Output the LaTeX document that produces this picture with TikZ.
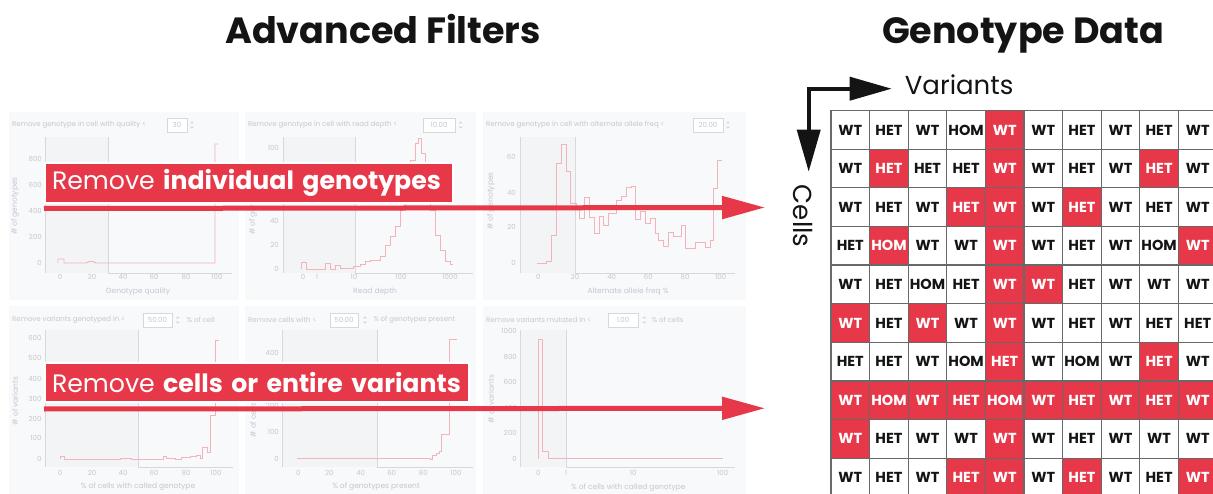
\documentclass[tikz,border=0pt]{standalone}
\usepackage{fontspec}
\setmainfont{Poppins}
\usepackage{tikz}
\usetikzlibrary{arrows.meta,positioning}
\definecolor{brandred}{RGB}{231,56,74}
\definecolor{panelbg}{RGB}{248,249,251}
\definecolor{shadebg}{RGB}{243,244,246}
\definecolor{faint}{RGB}{196,199,205}
\definecolor{axisgray}{RGB}{214,216,220}
\definecolor{histpink}{RGB}{244,178,186}
\definecolor{gridgray}{RGB}{105,105,105}
\definecolor{ink}{RGB}{20,20,20}
\tikzset{spinner/.pic={\draw[faint,line width=0.5pt] (-1.4,-1.6) -- (0,-3) -- (1.4,-1.6) (-1.4,1.6) -- (0,3) -- (1.4,1.6);}}

\begin{document}
\begin{tikzpicture}[x=1pt,y=-1pt,
  heading/.style={font=\fontsize{36.5}{42}\selectfont\bfseries,text=ink,anchor=base,inner sep=0pt},
  hdr/.style={font=\fontsize{7}{8}\selectfont,text=faint,anchor=west,inner sep=0pt},
  ticklab/.style={font=\fontsize{7}{8}\selectfont,text=faint,inner sep=0pt},
  axlab/.style={font=\fontsize{7.5}{9}\selectfont,text=faint,inner sep=0pt},
  inbox/.style={draw=axisgray,fill=white,line width=0.4pt,minimum height=14pt,inner sep=0pt,font=\fontsize{7}{8}\selectfont,text=faint},
  axisln/.style={draw=axisgray,line width=0.8pt},
  hist/.style={draw=histpink,line width=0.9pt},
  banner/.style={fill=brandred,draw=white,line width=2pt,text=white,inner xsep=7pt,inner ysep=0pt,align=left,font=\fontsize{25.2}{30}\selectfont},
  filt/.style={draw=brandred,line width=5pt,-{Triangle[length=43pt,width=22pt]}},
  dimarrow/.style={draw=ink,line width=3.8pt,{Triangle[length=42pt,width=23pt]}-{Triangle[length=42pt,width=23pt]}},
  dimlab/.style={font=\fontsize{26}{30}\selectfont,text=ink,inner sep=0pt},
  cell0/.style={draw=gridgray,line width=1.2pt,fill=white,text=ink,minimum size=38.6pt,inner sep=0pt,font=\fontsize{14.5}{16}\selectfont\bfseries},
  cell1/.style={cell0,fill=brandred,text=white}
]
\useasboundingbox (0,0) rectangle (1213,494);
\fill[white] (0,0) rectangle (1213,494);

% titles
\node[heading] (filters) at (383,44) {Advanced Filters};
\node[heading] (gdata) at (1023,44) {Genotype Data};

% filter panels
\foreach \px/\pw in {9/230,245/231,483/263}
  \foreach \py in {112,306}
    \fill[panelbg] (\px,\py) rectangle ++(\pw,188);

% shaded range, axes and threshold of each histogram
\foreach \ax/\th/\ty/\by/\rx in {45/108/137/273/232,283/355/137/273/473,520/575/137/273/735,
                                 45/138/330/467/233,282/377/330/467/473,520/566/330/467/735}{
  \fill[shadebg] (\ax,\ty) rectangle (\th,\by);
  \draw[axisln] (\ax,\ty) -- (\ax,\by);
  \draw[axisln] (\th,\ty) -- (\th,\by) -- (\rx,\by);
}

% panel 1: quality
\node[hdr] (h1) at (12,125) {Remove genotype in cell with quality <};
\node[inbox,minimum width=20pt] (in1) at (177,125) {30};
\pic at (192,125) {spinner};
\foreach \v/\yy in {800/159.3,600/185,400/211,200/236.7,0/263.3}
  \node[ticklab,anchor=east] (p1y\v) at (42,\yy) {\v};
\foreach \v/\xx in {0/60,20/92,40/123,60/154,80/186,100/217}
  \node[ticklab] (p1x\v) at (\xx,277) {\v};
\node[axlab] (p1xl) at (138,292) {Genotype quality};
\node[axlab,rotate=90] (p1yl) at (15,206) {\# of genotypes};
\draw[hist] (58,263) -- (58,259) -- (64,259) -- (64,263) -- (86,263) -- (89,261.5) -- (93,261.5)
  -- (96,263) -- (215,263) -- (215,144) -- (218,144);

% panel 2: read depth
\node[hdr] (h2) at (248,125) {Remove genotype in cell with read depth <};
\node[inbox,minimum width=32pt] (in2) at (439,125) {10.00};
\pic at (460.7,125) {spinner};
\foreach \v/\yy in {100/147.7,40/221,20/245,0/269.3}
  \node[ticklab,anchor=east] (p2y\v) at (279,\yy) {\v};
\foreach \v/\xx in {0/303,1/317,10/354,100/401,1000/450}
  \node[ticklab] (p2x\v) at (\xx,277) {\v};
\node[axlab] (p2xl) at (375,292) {Read depth};
\node[axlab,rotate=90] (p2yl) at (253,206) {\# of genotypes};
\draw[hist] (301.7,269.3) \foreach \bx/\by in {306.7/262.7,325/269.3,330/263.3,335/269.3,340/265,
  353.3/268.3,360/266,365/264,370/261.7,380/260,385/256.7,390/245,395/236.7,400/226.7,405/210,
  410/183.3,415/160,418.3/143.3,421.7/138.3,425/153.3,430/176.7,435/210,440/235,445/250,
  450/261.7,453.3/264} { |- (\bx,\by) };

% panel 3: allele frequency
\node[hdr] (h3) at (486,125) {Remove genotype in cell with alternate allele freq <};
\node[inbox,minimum width=30pt] (in3) at (708,125) {20.00};
\pic at (728,125) {spinner};
\foreach \v/\yy in {60/156.7,40/192.7,20/227.3,0/263.3}
  \node[ticklab,anchor=east] (p3y\v) at (516,\yy) {\v};
\foreach \v/\xx in {0/538.3,20/575,40/611.7,60/648.3,80/685,100/720.7}
  \node[ticklab] (p3x\v) at (\xx,277) {\v};
\node[axlab] (p3xl) at (628,292) {Alternate allele freq \%};
\node[axlab,rotate=90] (p3yl) at (491,201) {\# of genotypes};
\draw[hist] (536.7,263.3) \foreach \bx/\by in {546.7/263.3,551.7/261.7,556.7/235,561.7/163.3,
  566/144.3,570.7/171.7,576/203.3,579.3/206.7,584.3/218.3,589.3/197.3,594/217.3,599/233.3,
  603.3/216.7,608.3/225,616.7/213.3,621.7/200.7,626.7/196,631.7/187.3,635/186,640/219.3,
  645/211.7,650/223.3,655/218.3,658.3/233.3,663.3/240,668.3/246,673.3/232.7,681.7/236,
  685/225,695/248.3,705/242.3,710/247.3,713.3/240,717.3/188.7,721.7/160} { |- (\bx,\by) };

% panel 4: variants genotyped
\node[hdr] (h4) at (12,320) {Remove variants genotyped in <};
\node[inbox,minimum width=29pt] (in4) at (157.5,320) {50.00};
\pic at (177.7,320) {spinner};
\node[hdr] (u4) at (186.7,320) {\% of cell};
\foreach \v/\yy in {600/338.3,500/358.3,400/379,300/399,200/419,100/438.3,0/458.7}
  \node[ticklab,anchor=east] (p4y\v) at (41.7,\yy) {\v};
\foreach \v/\xx in {0/60,20/92,40/123,60/154,80/186,100/216}
  \node[ticklab] (p4x\v) at (\xx,473.3) {\v};
\node[axlab] (p4xl) at (138,487) {\% of cells with called genotype};
\node[axlab,rotate=90] (p4yl) at (15,401) {\# of variants};
\draw[hist] (60,459.3) \foreach \bx/\by in {64/456,120/459.3,131.7/458.3,163.3/459.3,166.7/456,
  175/458.3,181.7/459.3,190/457.7,196.7/456,200/455,202.7/458.3,207.3/447.7,210.7/452.7,
  215/415,219.3/340} { |- (\bx,\by) };

% panel 5: genotypes present
\node[hdr] (h5) at (248,320) {Remove cells with <};
\node[inbox,minimum width=28pt] (in5) at (344,320) {50.00};
\pic at (365,320) {spinner};
\node[hdr] (u5) at (373.3,320) {\% of genotypes present};
\foreach \v/\yy in {400/352.7,200/405.7,100/432.2,0/458.7}
  \node[ticklab,anchor=east] (p5y\v) at (279,\yy) {\v};
\foreach \v/\xx in {0/298.3,20/329.3,40/360.7,60/391.7,80/423.3,100/456}
  \node[ticklab] (p5x\v) at (\xx,472.7) {\v};
\node[axlab] (p5xl) at (376,487) {\% of genotypes present};
\node[axlab,rotate=90] (p5yl) at (253,420) {\# of cells};
\draw[hist] (297.3,458.7) \foreach \bx/\by in {420/458.7,430/458.3,432.7/459.3,436/455,
  439.3/453.3,441/451.7,449.3/434.3,457.3/339.3} { |- (\bx,\by) };

% panel 6: variants mutated
\node[hdr] (h6) at (486,320) {Remove variants mutated in <};
\node[inbox,minimum width=30pt] (in6) at (623,320) {1.00};
\pic at (644.3,320) {spinner};
\node[hdr] (u6) at (651.7,320) {\% of cells};
\foreach \v/\yy in {1000/330.7,800/356.7,600/382.3,400/407.7,200/432.7,0/458.7}
  \node[ticklab,anchor=east] (p6y\v) at (517,\yy) {\v};
\foreach \v/\xx in {0/538.3,1/566,10/633.3,100/722.7}
  \node[ticklab] (p6x\v) at (\xx,473.3) {\v};
\node[axlab] (p6xl) at (628.3,487.3) {\% of cells with called genotype};
\node[axlab,rotate=90] (p6yl) at (491,399) {\# of variants};
\draw[hist] (538.3,458.7) \foreach \bx/\by in {542.7/339.3,548.3/451.7,722.7/458.7} { |- (\bx,\by) };

% the two kinds of filter
\node[banner,text width=394pt,minimum height=40pt] (bannerA) at (249,183)
  {\mbox{Remove \textbf{individual genotypes}}};
\node[banner,text width=410pt,minimum height=39pt] (bannerB) at (257,382.5)
  {\mbox{Remove \textbf{cells or entire variants}}};
\coordinate (tipA) at (765,207.5);
\coordinate (tipB) at (765,408.3);
\draw[filt] ([yshift=-4.5pt]bannerA.south west) -- (tipA);
\draw[filt] ([yshift=-6pt]bannerB.south west) -- (tipB);

% genotype matrix, cells by variants
\foreach \cells [count=\r] in {
  {WT/0,HET/0,WT/0,HOM/0,WT/1,WT/0,HET/0,WT/0,HET/0,WT/0},
  {WT/0,HET/1,HET/0,HET/0,WT/1,WT/0,HET/0,WT/0,HET/1,WT/0},
  {WT/0,HET/0,WT/0,HET/1,WT/1,WT/0,HET/1,WT/0,HET/0,WT/0},
  {HET/0,HOM/1,WT/0,WT/0,WT/1,WT/0,HET/0,WT/0,HOM/0,WT/1},
  {WT/0,HET/0,HOM/0,HET/0,WT/1,WT/1,HET/0,WT/0,WT/0,WT/0},
  {WT/1,HET/0,WT/1,WT/0,WT/1,WT/0,HET/0,WT/0,HET/0,HET/0},
  {HET/0,HET/0,WT/0,HOM/0,HET/1,WT/0,HOM/0,WT/0,HET/1,WT/0},
  {WT/1,HOM/1,WT/1,HET/1,HOM/1,WT/1,HET/1,WT/1,HET/1,WT/1},
  {WT/1,HET/0,WT/0,WT/0,WT/1,WT/0,HET/0,WT/0,WT/0,WT/0},
  {WT/0,HET/0,WT/0,HET/1,WT/1,WT/0,HET/1,WT/0,HET/0,WT/1}}{
  \foreach \txt/\hit [count=\c] in \cells
    \node[cell\hit] (g-\r-\c) at ({850.3+(\c-1)*38.6},{130+(\r-1)*38.6}) {\txt};
}

% matrix axes
\coordinate (corner) at (808.7,88.7);
\coordinate (vtip) at (891.7,88.7);
\coordinate (ctip) at (808.7,171.7);
\draw[dimarrow] (ctip) |- (vtip);
\node[dimlab,right=13pt of vtip,yshift=3.5pt] (variants) {Variants};
\node[dimlab,rotate=-90,anchor=west] (cells) at ([xshift=-6pt,yshift=-13pt]ctip) {Cells};
\end{tikzpicture}
\end{document}
